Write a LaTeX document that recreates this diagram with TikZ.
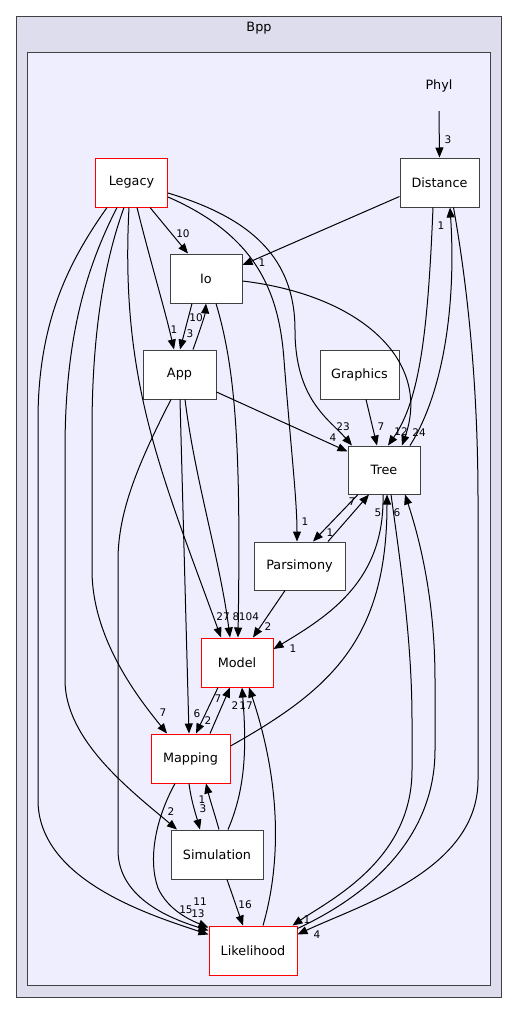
\documentclass[tikz,border=0pt]{standalone}
\usepackage{fontspec}
\setmainfont{DejaVu Sans}
\usetikzlibrary{arrows.meta}
\definecolor{bppfill}{HTML}{DDDDEE}
\definecolor{phylfill}{HTML}{EEEEFF}
\definecolor{frame}{HTML}{404040}

\begin{document}
\begin{tikzpicture}[x=1pt,y=-1pt,>={Triangle[length=10pt,width=8pt]},
  dir/.style={draw=frame,fill=white,line width=1pt,minimum height=49pt,inner sep=0pt,font=\fontsize{12.8}{15}\selectfont},
  dirred/.style={dir,draw=red},
  dep/.style={->,draw=black,line width=1pt},
  lbl/.style={inner sep=0pt,font=\fontsize{10.5}{12}\selectfont}]
  \useasboundingbox (0,0) rectangle (517,1012);
  % clusters
  \path[draw=frame,fill=bppfill,line width=1pt] (16,16) rectangle (501,997);
  \path[draw=frame,fill=phylfill,line width=1pt] (27,52) rectangle (490,985);
  \node[font=\fontsize{12.8}{15}\selectfont] (Bpp) at (259,28) {Bpp};
  \node[minimum height=50pt,inner sep=0pt,font=\fontsize{12.8}{15}\selectfont] (Phyl) at (439,86) {Phyl};

  % directories
  \node[dirred,minimum width=72pt] (Legacy) at (131.5,182.5) {Legacy};
  \node[dir,minimum width=79pt] (Distance) at (439.5,182.5) {Distance};
  \node[dir,minimum width=72pt] (Io) at (206,278.5) {Io};
  \node[dir,minimum width=73pt] (App) at (179.5,374.5) {App};
  \node[dir,minimum width=79pt] (Graphics) at (359.5,374.5) {Graphics};
  \node[dir,minimum width=72pt,minimum height=48pt] (Tree) at (384,470) {Tree};
  \node[dir,minimum width=91pt,minimum height=48pt] (Parsimony) at (299.5,566) {Parsimony};
  \node[dirred,minimum width=72pt] (Model) at (237,662.5) {Model};
  \node[dirred,minimum width=79pt] (Mapping) at (190.5,758.5) {Mapping};
  \node[dir,minimum width=92pt] (Simulation) at (217,854.5) {Simulation};
  \node[dirred,minimum width=88pt] (Likelihood) at (253,950.5) {Likelihood};

  % dependencies
  \draw[dep] (Phyl.south) -- (Distance.north);
  \draw[dep] ([yshift=-14pt]Distance.west) -- ([yshift=13.5pt]Io.east);
  \draw[dep] ([xshift=-6.5pt]Distance.south) .. controls (428,330) and (420,400) .. ([xshift=4pt]Tree.north);
  \draw[dep] ([xshift=26pt]Tree.north) .. controls (445,390) and (456,300) .. ([xshift=10.5pt]Distance.south);
  \draw[dep] ([xshift=14pt]Distance.south) .. controls (470,300) and (478,400) .. (478,500) -- (478,780)
    .. controls (478,870) and (360,905) .. ([yshift=-9pt]Likelihood.north east);

  \draw[dep] ([xshift=18.5pt]Legacy.south) -- ([xshift=-18pt]Io.north);
  \draw[dep] ([xshift=5.5pt]Legacy.south) .. controls (150,260) and (165,310) .. ([xshift=-5.5pt]App.north);
  \draw[dep] ([yshift=-10.5pt]Legacy.east) .. controls (240,215) and (295,250) .. (295,330)
    .. controls (295,400) and (330,420) .. ([xshift=-32pt]Tree.north);
  \draw[dep] ([yshift=-14.5pt]Legacy.east) .. controls (255,235) and (279,290) .. (284,360)
    .. controls (291,450) and (297,500) .. ([xshift=-2.5pt]Parsimony.north);
  \draw[dep] ([xshift=-2.5pt]Legacy.south) .. controls (120,380) and (160,470) .. ([xshift=-16pt]Model.north);
  \draw[dep] ([xshift=-7.5pt]Legacy.south) .. controls (105,260) and (92,330) .. (92,430) -- (92,570)
    .. controls (92,640) and (140,700) .. ([xshift=-23.5pt]Mapping.north);
  \draw[dep] ([xshift=-14.5pt]Legacy.south) .. controls (85,270) and (65,340) .. (65,450) -- (65,680)
    .. controls (65,740) and (130,790) .. ([xshift=-40pt]Simulation.north);
  \draw[dep] ([xshift=-24.5pt]Legacy.south) .. controls (70,260) and (38,320) .. (38,420) -- (38,800)
    .. controls (38,880) and (150,915) .. ([yshift=-9pt]Likelihood.north west);

  \draw[dep] ([xshift=-14pt]Io.south) -- ([xshift=0.5pt]App.north);
  \draw[dep] ([xshift=13.5pt]App.north) .. controls (200,330) and (205,315) .. (Io.south);
  \draw[dep] ([yshift=-2.5pt]Io.east) .. controls (360,295) and (432,360) .. ([xshift=18pt]Tree.north);
  \draw[dep] ([xshift=10pt]Io.south) .. controls (236,370) and (241,450) .. ([xshift=1pt]Model.north);

  \draw[dep] ([yshift=-17.5pt]App.east) -- ([yshift=-6pt]Tree.north west);
  \draw[dep] ([xshift=5.5pt]App.south) .. controls (195,480) and (220,560) .. ([xshift=-7pt]Model.north);
  \draw[dep] ([xshift=0.5pt]App.south) -- ([xshift=-1.5pt]Mapping.north);
  \draw[dep] ([xshift=-8.5pt]App.south) .. controls (140,460) and (118,510) .. (118,560) -- (118,850)
    .. controls (118,900) and (175,920) .. ([yshift=-5pt]Likelihood.north west);

  \draw[dep] ([xshift=6.5pt]Graphics.south) -- ([xshift=-7pt]Tree.north);
  \draw[dep] ([xshift=28.5pt]Parsimony.north) -- ([xshift=-15pt]Tree.south);
  \draw[dep] ([xshift=-26pt]Tree.south) -- ([xshift=13.5pt]Parsimony.north);
  \draw[dep] ([xshift=-14.5pt]Parsimony.south) -- ([xshift=16pt]Model.north);
  \draw[dep] ([xshift=-1pt]Tree.south) .. controls (385,580) and (330,615) .. ([yshift=13.5pt]Model.east);
  \draw[dep] ([yshift=12.5pt]Mapping.east) .. controls (330,690) and (387,640) .. ([xshift=3pt]Tree.south);
  \draw[dep] ([xshift=7pt]Tree.south) .. controls (400,560) and (412,640) .. (412,720) -- (412,770)
    .. controls (412,860) and (330,900) .. ([xshift=-5pt]Likelihood.north east);
  \draw[dep] ([yshift=-3pt]Likelihood.north east) .. controls (380,890) and (435,830) .. (435,750) -- (435,680)
    .. controls (435,600) and (420,540) .. ([xshift=21pt]Tree.south);

  \draw[dep] ([xshift=-19pt]Model.south) -- ([xshift=5.5pt]Mapping.north);
  \draw[dep] ([xshift=19.5pt]Mapping.north) -- ([xshift=-7pt]Model.south);
  \draw[dep] ([xshift=11pt]Simulation.north) .. controls (245,790) and (247,750) .. ([xshift=5pt]Model.south);
  \draw[dep] ([xshift=10pt]Likelihood.north) .. controls (282,860) and (280,780) .. ([xshift=12pt]Model.south);
  \draw[dep] ([xshift=-1.5pt]Mapping.south) .. controls (191,800) and (196,815) .. ([xshift=-17pt]Simulation.north);
  \draw[dep] ([xshift=2pt]Simulation.north) .. controls (215,815) and (210,800) .. ([xshift=15.5pt]Mapping.south);
  \draw[dep] ([xshift=-15.5pt]Mapping.south) .. controls (155,820) and (148,860) .. (158,888)
    .. controls (168,910) and (190,920) .. ([yshift=-2pt]Likelihood.north west);
  \draw[dep] ([xshift=10pt]Simulation.south) -- ([xshift=-10pt]Likelihood.north);

  % edge labels
  \node[lbl] (lPhyl) at (448,140) {3};
  \node[lbl] (lDistIo) at (262,263) {1};
  \node[lbl] (lDistTree) at (401,432) {12};
  \node[lbl] (lTreeDist) at (441,226) {1};
  \node[lbl] (lDistLik) at (317,935) {4};
  \node[lbl] (lLegIo) at (183,234) {10};
  \node[lbl] (lLegApp) at (174,330) {1};
  \node[lbl] (lIoApp) at (190,334) {3};
  \node[lbl] (lAppIo) at (196,318) {10};
  \node[lbl] (lLegTree) at (343,427) {23};
  \node[lbl] (lLegPars) at (305,522) {1};
  \node[lbl] (lAppTree) at (333,438) {4};
  \node[lbl] (lIoTree) at (419,433) {24};
  \node[lbl] (lGraTree) at (381,427) {7};
  \node[lbl] (lParsTree) at (352,502) {7};
  \node[lbl] (lTreePars) at (330,533) {1};
  \node[lbl] (lTreeMod) at (293,649) {1};
  \node[lbl] (lMapTree) at (378,513) {5};
  \node[lbl] (lTreeLik) at (307,920) {1};
  \node[lbl] (lLikTree) at (397,513) {6};
  \node[lbl] (lLegMod) at (223,617) {27};
  \node[lbl] (lAppMod) at (236,617) {8};
  \node[lbl] (lIoMod) at (249,617) {104};
  \node[lbl] (lParsMod) at (268,627) {2};
  \node[lbl] (lLegMap) at (163,713) {7};
  \node[lbl] (lAppMap) at (197,714) {6};
  \node[lbl] (lModMap) at (208,721) {2};
  \node[lbl] (lMapMod) at (218,699) {7};
  \node[lbl] (lSimMod) at (235,706) {2};
  \node[lbl] (lLikMod) at (246,706) {17};
  \node[lbl] (lMapSim) at (203,809) {3};
  \node[lbl] (lSimMap) at (202,800) {1};
  \node[lbl] (lLegSim) at (171,812) {2};
  \node[lbl] (lSimLik) at (245,905) {16};
  \node[lbl] (lLegLik) at (200,902) {11};
  \node[lbl] (lAppLik) at (186,910) {15};
  \node[lbl] (lMapLik) at (198,914) {13};
\end{tikzpicture}
\end{document}
